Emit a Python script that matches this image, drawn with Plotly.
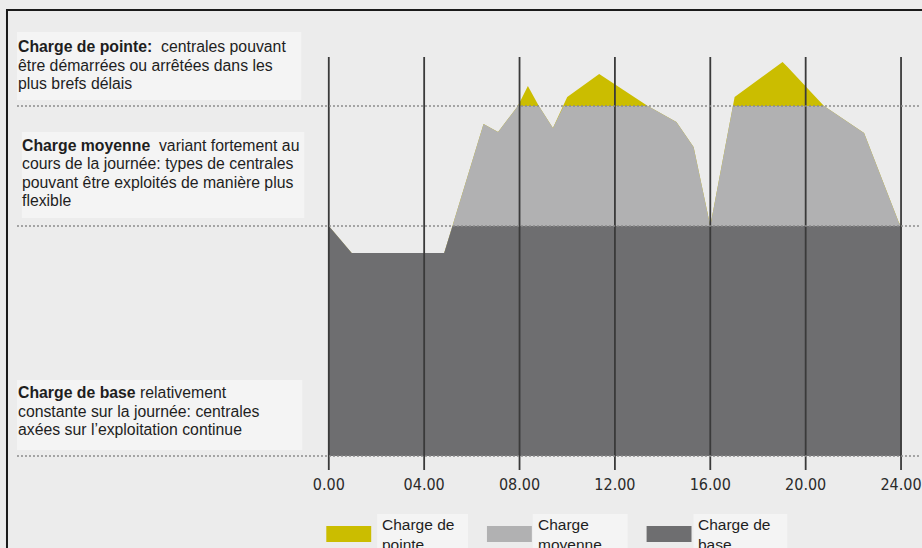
import plotly.graph_objects as go

# ---------------- data ----------------
hours = [0.0, 0.96, 4.84, 5.19, 6.49, 7.1, 7.93, 8.35, 8.81, 9.4, 9.85, 10.0,
         11.34, 13.38, 14.58, 15.3, 16.0, 16.95, 17.02, 19.03, 19.24, 20.77,
         22.45, 23.9, 24.0]
total_load = [100.0, 88.3, 88.3, 100.0, 144.3, 140.9, 152.2, 160.9, 152.2, 142.6,
              152.2, 156.1, 166.1, 152.2, 145.2, 134.3, 100.0, 152.2, 156.1,
              171.3, 169.1, 152.2, 140.4, 101.7, 100.0]
base_level = 100.0
peak_level = 152.2

tick_vals = [0, 4, 8, 12, 16, 20, 24]
tick_text = ["0.00", "04.00", "08.00", "12.00", "16.00", "20.00", "24.00"]

series_names = ["Charge de pointe", "Charge moyenne", "Charge de base"]
legend_labels = ["Charge de<br>pointe", "Charge<br>moyenne", "Charge de<br>base"]
colors = ["#cbbd00", "#b1b1b2", "#6e6e70"]

box_lines = [
    ["<b>Charge de pointe:</b>  centrales pouvant",
     "être démarrées ou arrêtées dans les",
     "plus brefs délais"],
    ["<b>Charge moyenne</b>  variant fortement au",
     "cours de la journée: types de centrales",
     "pouvant être exploités de manière plus",
     "flexible"],
    ["<b>Charge de base</b> relativement",
     "constante sur la journée: centrales",
     "axées sur l’exploitation continue"],
]

# --------------- figure ---------------
W, H = 922, 548
BG = "#ececec"
BOX = "#f4f4f4"
FONT = "Liberation Sans, Arial, sans-serif"


def px_x(px):
    return px / W


def px_y(py):
    return 1 - py / H


medium = [min(v, peak_level) for v in total_load]
base = [min(v, base_level) for v in total_load]

fig = go.Figure()
for name, ys, col in zip(series_names, [total_load, medium, base], colors):
    fig.add_trace(go.Scatter(x=hours, y=ys, mode="lines", fill="tozeroy",
                             fillcolor=col, line=dict(width=0, color=col),
                             name=name, showlegend=False, hoverinfo="skip"))

shapes = []
# frame
shapes.append(dict(type="rect", xref="paper", yref="paper", x0=px_x(7), x1=1.05,
                   y0=-0.05, y1=px_y(10), line=dict(color="#1a1a1a", width=2),
                   layer="above"))
# text boxes
for (x0, y0, x1, y1) in [(17, 32, 302, 100), (22, 132, 305, 218), (17, 380, 303, 450)]:
    shapes.append(dict(type="rect", xref="paper", yref="paper", x0=px_x(x0), x1=px_x(x1),
                       y0=px_y(y1), y1=px_y(y0), fillcolor=BOX, line=dict(width=0),
                       layer="below"))
# vertical hour lines
for t in tick_vals:
    shapes.append(dict(type="line", xref="x", yref="y", x0=t, x1=t, y0=-6.1, y1=173.5,
                       line=dict(color="#3a3a3a", width=1.8), layer="above"))
# dotted level lines
for lvl in [0, base_level, peak_level]:
    shapes.append(dict(type="line", xref="paper", yref="y", x0=px_x(17), x1=1,
                       y0=lvl, y1=lvl, line=dict(color="#8a8a8a", width=1.5, dash="2px,2px"),
                       layer="above"))

annotations = []
LINE_GAP = 18.4
for lines, y_first, x in zip(box_lines, [46.7, 145.3, 392.8], [16, 20.5, 16]):
    for i, ln in enumerate(lines):
        annotations.append(dict(xref="paper", yref="paper", x=px_x(x), y=px_y(y_first + i * LINE_GAP),
                                xanchor="left", yanchor="middle", align="left", text=ln,
                                showarrow=False, font=dict(family=FONT, size=15.8, color="#1e1e1e")))

# manual legend
legend_x = [327, 488, 648]
legend_box = [(378, 469), (534, 629), (695, 789)]
for lx, (bx0, bx1), lab, col in zip(legend_x, legend_box, legend_labels, colors):
    shapes.append(dict(type="rect", xref="paper", yref="paper", x0=px_x(bx0), x1=px_x(bx1),
                       y0=-0.05, y1=px_y(514), fillcolor=BOX, line=dict(width=0), layer="below"))
    shapes.append(dict(type="rect", xref="paper", yref="paper", x0=px_x(lx), x1=px_x(lx + 45),
                       y0=px_y(542), y1=px_y(526), fillcolor=col, line=dict(width=0), layer="above"))
    annotations.append(dict(xref="paper", yref="paper", x=px_x(bx0 + 3), y=px_y(514),
                            xanchor="left", yanchor="top", align="left", text=lab,
                            showarrow=False, font=dict(family=FONT, size=15.5, color="#1e1e1e")))

h_per_px = 24 / (903 - 329.5)
v_per_px = 1 / 2.3

fig.update_layout(
    width=W, height=H,
    margin=dict(l=0, r=0, t=0, b=0),
    paper_bgcolor=BG, plot_bgcolor="rgba(0,0,0,0)",
    showlegend=False,
    shapes=shapes, annotations=annotations,
    xaxis=dict(domain=[0, 1], range=[-329.5 * h_per_px, 24 + (W - 903) * h_per_px],
               tickvals=tick_vals, ticktext=tick_text, showgrid=False, zeroline=False,
               showline=False, ticks="", anchor="free", position=px_y(473),
               ticklabeloverflow="allow",
               tickfont=dict(family="Liberation Sans Narrow, DejaVu Sans Condensed, Roboto, sans-serif",
                             size=16, color="#2a2a2a")),
    yaxis=dict(domain=[0, 1], range=[-(H - 456) * v_per_px, 456 * v_per_px], visible=False),
)

fig.write_html("out.html")
